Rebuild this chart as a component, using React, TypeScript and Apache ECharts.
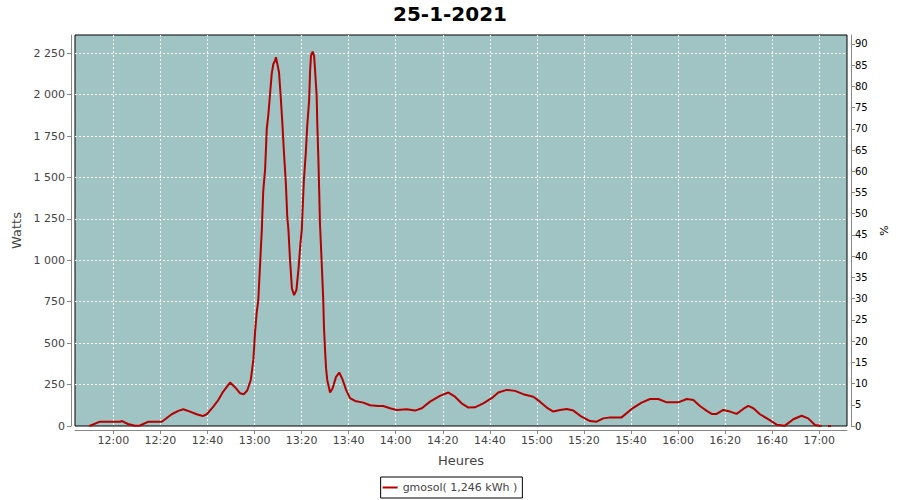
import React, { useEffect, useRef } from "react";
import * as echarts from "echarts";

// time in minutes since midnight
const times: number[] = [
  709.8, 714.3, 722.8, 723.7, 726.2, 729.2, 731.3, 734.7, 739.8, 740.6,
  744.8, 747.6, 749.7, 752.6, 755.4, 758.0, 759.7, 762.5, 764.6, 766.7,
  769.6, 771.7, 773.8, 775.5, 776.9, 778.4, 779.5, 780.2, 780.9, 781.6,
  783.1, 783.7, 784.5, 785.2, 785.9, 786.6, 787.3, 788.0, 788.7, 789.1,
  789.7, 790.4, 791.1, 791.8, 792.5, 793.3, 793.9, 794.4, 795.1, 795.9,
  796.8, 797.8, 798.7, 799.5, 800.1, 800.5, 801.0, 801.8, 802.4, 803.2,
  803.6, 804.0, 804.7, 805.3, 805.7, 806.4, 806.7, 807.1, 807.5, 807.8,
  808.5, 809.2, 809.5, 810.0, 810.4, 810.9, 812.1, 813.2, 814.6, 816.0,
  817.5, 818.9, 820.6, 822.7, 826.2, 829.1, 832.6, 834.7, 837.6, 840.4,
  844.7, 848.2, 851.1, 854.6, 858.8, 862.4, 865.2, 868.0, 870.9, 873.7,
  877.2, 880.8, 883.6, 887.2, 890.7, 894.2, 898.5, 901.3, 904.2, 907.0,
  909.8, 912.7, 915.5, 919.0, 922.6, 925.4, 928.2, 931.1, 936.0, 940.3,
  944.5, 948.1, 951.6, 955.2, 960.1, 963.7, 966.5, 969.3, 972.2, 974.3,
  976.4, 979.2, 982.1, 984.9, 987.7, 989.8, 992.0, 994.8, 998.3, 1001.9,
  1005.4, 1009.0, 1012.5, 1015.3, 1018.2, 1021.0, 1022.4, 1023.7, 1025.0,
];

const watts: (number | null)[] = [
  0, 26, 26, 30, 12, 2, 3, 25, 26, 26,
  71, 91, 101, 87, 71, 60, 71, 117, 157, 208,
  262, 234, 198, 192, 214, 278, 399, 561, 682, 762,
  1186, 1418, 1550, 1792, 1883, 2004, 2125, 2185, 2205, 2226,
  2185, 2135, 1993, 1834, 1652, 1469, 1267, 1186, 1000, 830,
  790, 820, 950, 1100, 1186, 1328, 1489, 1651, 1812, 1963,
  2135, 2235, 2260, 2235, 2155, 1993, 1812, 1630, 1408, 1227,
  1000, 763, 601, 450, 349, 278, 202, 228, 295, 323,
  278, 218, 168, 151, 141, 125, 121, 121, 107, 97,
  101, 93, 107, 147, 182, 202, 177, 137, 111, 113,
  137, 168, 202, 218, 212, 192, 177, 147, 111, 87,
  97, 103, 93, 56, 30, 26, 46, 52, 52, 103,
  141, 163, 163, 143, 143, 163, 157, 121, 91, 73,
  73, 97, 87, 73, 103, 121, 107, 71, 41, 8,
  2, 41, 62, 46, 6, 0, null, 0, 0,
];

const TITLE = "25-1-2021";
const SERIES_NAME = "gmosol( 1,246 kWh )";
const X_MIN = 703.7;
const X_MAX = 1031.8;
const X_STEP = 20;
const LEFT_MAX = 2360;
const LEFT_STEP = 250;
const RIGHT_MAX = 92.1;
const RIGHT_STEP = 5;

const FONT = "DejaVu Sans";

function fmtTime(v: number): string {
  const h = Math.floor(v / 60 + 1e-6);
  const m = Math.round(v - h * 60);
  return `${h}:${String(m).padStart(2, "0")}`;
}

function fmtWatts(v: number): string {
  if (v >= 1000) {
    const th = Math.floor(v / 1000);
    const rest = Math.round(v - th * 1000);
    return `${th} ${String(rest).padStart(3, "0")}`;
  }
  return String(Math.round(v));
}

export default function App() {
  const ref = useRef<HTMLDivElement>(null);

  useEffect(() => {
    document.body.style.margin = "0";
    if (!ref.current) return;
    const chart = echarts.init(ref.current, undefined, { renderer: "svg" });
    const data = times.map((t, i) => [t, watts[i] == null ? "-" : watts[i]]);
    const axisGray = "#888888";
    const lineColor = "#B40000";
    const option: any = {
      animation: false,
      backgroundColor: "#ffffff",
      textStyle: { fontFamily: FONT },
      title: {
        text: TITLE,
        left: "center",
        top: 4,
        padding: 0,
        textStyle: { fontSize: 20, fontWeight: "bold", color: "#000", fontFamily: FONT },
      },
      grid: {
        left: 75,
        top: 35,
        right: 53,
        bottom: 74,
        show: true,
        backgroundColor: "#A0C4C3",
        borderColor: "#000",
        borderWidth: 1,
        containLabel: false,
      },
      legend: {
        show: true,
        left: "center",
        top: 477,
        padding: [4, 5, 4, 2],
        borderColor: "#000",
        borderWidth: 1,
        borderRadius: 0,
        itemWidth: 15,
        itemHeight: 2,
        textStyle: { fontSize: 11, color: "#444", fontFamily: FONT, lineHeight: 13 },
        data: [{ name: SERIES_NAME, icon: "rect", itemStyle: { color: lineColor } }],
      },
      xAxis: {
        type: "value",
        min: X_MIN,
        max: X_MAX,
        minInterval: X_STEP,
        maxInterval: X_STEP,
        offset: 4,
        name: "Heures",
        nameLocation: "middle",
        nameGap: 24,
        nameTextStyle: { fontSize: 13, color: "#444", fontFamily: FONT },
        axisLine: { show: true, onZero: false, lineStyle: { color: axisGray } },
        axisTick: { show: true, length: 4, lineStyle: { color: axisGray } },
        axisLabel: {
          margin: 5,
          fontSize: 11,
          color: "#444",
          fontFamily: FONT,
          showMinLabel: false,
          showMaxLabel: false,
          formatter: (v: number) => fmtTime(v),
        },
        splitLine: {
          show: true,
          showMinLine: false,
          showMaxLine: false,
          lineStyle: { color: "#ffffff", type: [2, 2], width: 1 },
        },
      },
      yAxis: [
        {
          type: "value",
          position: "left",
          min: 0,
          max: LEFT_MAX,
          interval: LEFT_STEP,
          offset: 4,
          name: "Watts",
          nameLocation: "middle",
          nameGap: 44,
          nameTextStyle: { fontSize: 13, color: "#444", fontFamily: FONT },
          axisLine: { show: true, onZero: false, lineStyle: { color: axisGray } },
          axisTick: { show: true, length: 4, lineStyle: { color: axisGray } },
          axisLabel: {
            margin: 6,
            fontSize: 11,
            color: "#444",
            fontFamily: FONT,
            showMaxLabel: false,
            formatter: (v: number) => fmtWatts(v),
          },
          splitLine: {
            show: true,
            showMinLine: false,
            showMaxLine: false,
            lineStyle: { color: "#ffffff", type: [2, 2], width: 1 },
          },
        },
        {
          type: "value",
          position: "right",
          min: 0,
          max: RIGHT_MAX,
          interval: RIGHT_STEP,
          offset: 4,
          name: "%",
          nameLocation: "middle",
          nameGap: 24,
          nameTextStyle: { fontSize: 11, color: "#000", fontFamily: FONT },
          axisLine: { show: true, onZero: false, lineStyle: { color: axisGray } },
          axisTick: { show: true, length: 4, lineStyle: { color: axisGray } },
          axisLabel: {
            margin: 4,
            fontSize: 10,
            color: "#000",
            fontFamily: FONT,
            showMaxLabel: false,
          },
          splitLine: { show: false },
        },
      ],
      series: [
        {
          type: "line",
          name: SERIES_NAME,
          data,
          yAxisIndex: 0,
          symbol: "none",
          connectNulls: false,
          lineStyle: { color: lineColor, width: 2 },
          itemStyle: { color: lineColor },
        },
      ],
    };
    chart.setOption(option);
    return () => chart.dispose();
  }, []);

  return (
    <div
      ref={ref}
      style={{ position: "fixed", left: 0, top: 0, width: 900, height: 500 }}
    />
  );
}
